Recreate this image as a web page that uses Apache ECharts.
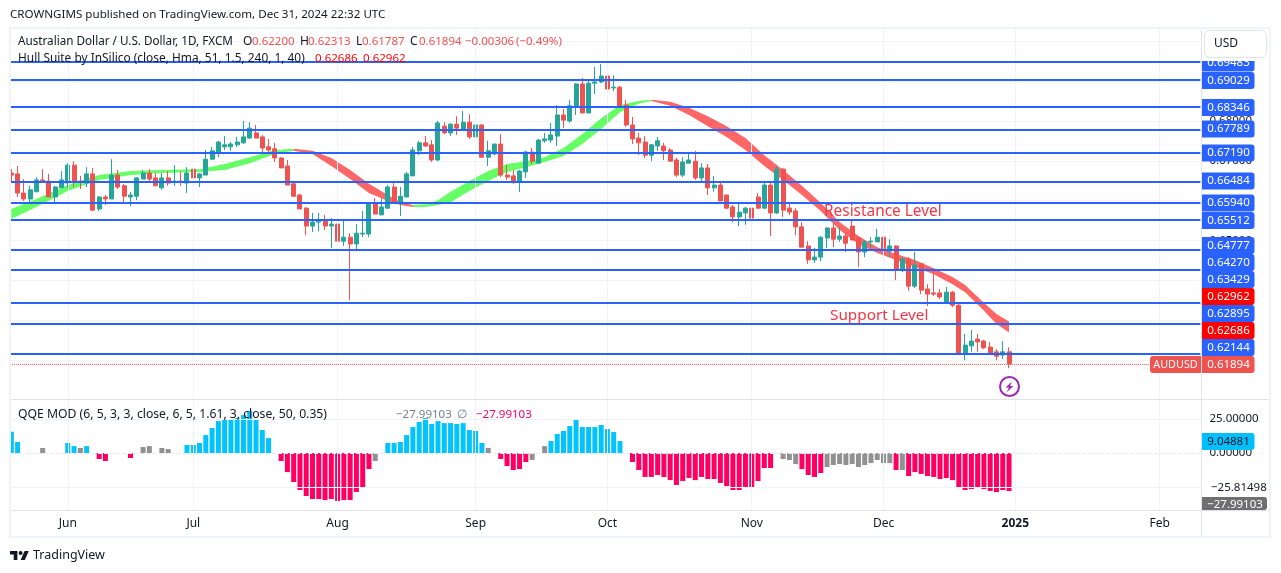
<!DOCTYPE html>
<html><head><meta charset="utf-8">
<style>html,body{margin:0;padding:0;background:#fff}#c{width:1281px;height:573px}</style>
<script src="https://cdn.jsdelivr.net/npm/echarts@6/dist/echarts.min.js"></script>
</head><body><div id="c"></div>
<script>
const opens=[.6669,.6667,.6619,.6604,.6622,.6652,.6649,.6609,.6632,.6644,.6689,.6649,.6644,.6667,.6579,.6609,.6604,.6664,.6637,.6609,
.6611,.6654,.6669,.6657,.6632,.6657,.6647,.6649,.6644,.6679,.6657,.6664,.6704,.6720,.6735,.6735,.6740,.6745,.6757,.6770,
.6760,.6735,.6730,.6707,.6687,.6642,.6614,.6581,.6536,.6546,.6549,.6536,.6541,.6498,.6508,.6491,.6516,.6516,.6594,.6564,
.6581,.6634,.6594,.6609,.6662,.6725,.6745,.6740,.6702,.6787,.6770,.6792,.6780,.6797,.6760,.6790,.6709,.6717,.6742,.6664,
.6662,.6649,.6672,.6722,.6694,.6750,.6752,.6762,.6815,.6800,.6835,.6893,.6820,.6895,.6898,.6913,.6883,.6885,.6840,.6790,
.6757,.6747,.6714,.6737,.6737,.6727,.6702,.6664,.6694,.6699,.6657,.6682,.6632,.6639,.6614,.6584,.6559,.6569,.6581,.6609,
.6581,.6639,.6569,.6679,.6581,.6574,.6534,.6486,.6451,.6458,.6506,.6531,.6503,.6511,.6536,.6506,.6471,.6496,.6496,.6508,
.6473,.6486,.6428,.6453,.6385,.6441,.6378,.6368,.6368,.6345,.6370,.6337,.6214,.6235,.6252,.6247,.6232,.6220,.6212,.62200];
const closes=[.6664,.6619,.6604,.6627,.6652,.6649,.6609,.6634,.6652,.6689,.6647,.6647,.6667,.6576,.6609,.6604,.6664,.6634,.6611,.6614,
.6657,.6669,.6654,.6637,.6657,.6644,.6649,.6647,.6669,.6657,.6667,.6704,.6725,.6747,.6740,.6742,.6747,.6760,.6782,.6757,
.6732,.6727,.6707,.6682,.6639,.6611,.6579,.6536,.6546,.6549,.6536,.6541,.6498,.6508,.6491,.6518,.6518,.6594,.6566,.6584,
.6634,.6594,.6611,.6667,.6727,.6745,.6737,.6702,.6795,.6770,.6792,.6782,.6797,.6760,.6790,.6709,.6725,.6742,.6664,.6659,
.6649,.6674,.6722,.6699,.6752,.6755,.6765,.6815,.6802,.6838,.6893,.6820,.6895,.6898,.6913,.6880,.6885,.6835,.6790,.6755,
.6745,.6714,.6740,.6750,.6725,.6699,.6664,.6697,.6702,.6657,.6682,.6632,.6639,.6599,.6581,.6559,.6571,.6581,.6556,.6581,
.6639,.6569,.6679,.6576,.6571,.6534,.6483,.6451,.6458,.6508,.6531,.6503,.6511,.6493,.6501,.6471,.6496,.6498,.6508,.6476,
.6486,.6428,.6453,.6385,.6438,.6375,.6365,.6365,.6358,.6370,.6337,.6214,.6237,.6247,.6245,.6230,.6214,.6209,.6220,.61894];
const lows=[.6649,.6609,.6599,.6594,.6622,.6644,.6609,.6594,.6632,.6632,.6634,.6629,.6634,.6576,.6574,.6589,.6604,.6629,.6594,.6586,
.6601,.6654,.6647,.6637,.6627,.6637,.6637,.6637,.6619,.6647,.6634,.6664,.6702,.6709,.6727,.6725,.6735,.6742,.6755,.6757,
.6717,.6717,.6697,.6682,.6639,.6609,.6579,.6513,.6521,.6523,.6526,.6481,.6488,.6486,.6350,.6473,.6508,.6508,.6566,.6564,
.6579,.6594,.6561,.6609,.6662,.6714,.6735,.6697,.6699,.6767,.6762,.6765,.6780,.6755,.6757,.6707,.6687,.6714,.6659,.6652,
.6642,.6622,.6657,.6692,.6694,.6745,.6745,.6737,.6782,.6795,.6815,.6820,.6820,.6868,.6895,.6858,.6875,.6833,.6785,.6742,
.6714,.6707,.6699,.6725,.6702,.6699,.6659,.6659,.6694,.6652,.6649,.6614,.6622,.6599,.6579,.6546,.6536,.6539,.6554,.6579,
.6579,.6511,.6566,.6559,.6564,.6513,.6483,.6441,.6443,.6448,.6481,.6483,.6496,.6471,.6501,.6433,.6458,.6481,.6496,.6443,
.6458,.6400,.6420,.6373,.6380,.6365,.6335,.6360,.6353,.6343,.6332,.6214,.6199,.6220,.6220,.6227,.6214,.6199,.6202,.61787];
const highs=[.6679,.6687,.6654,.6637,.6659,.6679,.6667,.6637,.6674,.6694,.6699,.6662,.6684,.6682,.6611,.6614,.6704,.6677,.6642,.6622,
.6659,.6677,.6679,.6669,.6669,.6674,.6689,.6672,.6684,.6689,.6669,.6727,.6735,.6750,.6762,.6747,.6760,.6800,.6797,.6790,
.6765,.6755,.6745,.6709,.6702,.6644,.6617,.6584,.6569,.6569,.6564,.6556,.6561,.6549,.6518,.6541,.6574,.6594,.6606,.6606,
.6639,.6644,.6634,.6672,.6735,.6750,.6762,.6752,.6800,.6797,.6795,.6812,.6825,.6817,.6795,.6792,.6750,.6742,.6767,.6689,
.6677,.6677,.6725,.6732,.6755,.6770,.6795,.6840,.6830,.6853,.6895,.6908,.6905,.6936,.6943,.6936,.6915,.6888,.6853,.6810,
.6770,.6762,.6742,.6760,.6745,.6732,.6707,.6709,.6717,.6725,.6694,.6692,.6662,.6647,.6614,.6589,.6596,.6584,.6591,.6619,
.6644,.6644,.6687,.6682,.6596,.6581,.6546,.6498,.6481,.6511,.6534,.6544,.6534,.6521,.6549,.6508,.6501,.6508,.6529,.6513,
.6503,.6488,.6458,.6458,.6471,.6443,.6390,.6430,.6378,.6383,.6373,.6340,.6265,.6275,.6265,.6250,.6245,.6227,.6247,.62313];

const hullGreenA=[[0,.6579,.6554],[4,.6604,.6584],[9,.6639,.6624],[14,.6664,.6652],[19,.6674,.6664],[24,.6677,.6669],[30,.6679,.6672],[34,.6692,.6677],[38,.6709,.6694],[42,.6727,.6717],[45,.6730,.6725]];
const hullRedA=[[45,.6730,.6725],[48,.6725,.6717],[51,.6707,.6687],[54,.6677,.6654],[57,.6642,.6619],[60,.6614,.6599],[62,.6596,.6589],[64,.6589,.6584]];
const hullGreenB=[[64,.6589,.6584],[66,.6591,.6584],[68,.6601,.6589],[70,.6622,.6596],[73,.6649,.6624],[76,.6674,.6649],[79,.6692,.6672],[82,.6699,.6684],[85,.6709,.6697],[88,.6732,.6712],[91,.6767,.6742],[94,.6807,.6780],[97,.6840,.6822],[100,.6850,.6843],[102,.6853,.6850]];
const hullRedB=[[102,.6853,.6850],[105,.6848,.6838],[108,.6833,.6815],[111,.6812,.6787],[114,.6787,.6760],[117,.6757,.6727],[120,.6714,.6687],[123,.6677,.6652],[126,.6637,.6614],[129,.6594,.6574],[132,.6546,.6526],[135,.6511,.6491],[138,.6483,.6468],[141,.6466,.6451],[144,.6451,.6433],[147,.6430,.6415],[150,.6408,.6390],[152,.6388,.6370],[155,.6343,.6323],[157,.6315,.6290],[159,.62962,.62686]];

const qqeValues=[15.7,8.1,0,0,0,3.7,0,0,0,7.4,5.1,3.7,5.1,0,-4.4,-5.9,0,0,0,-3.7,0,4.4,5.1,0,3.7,2.9,0,0,5.9,5.9,
7.4,13.2,18.4,23.5,24.3,25,25.7,27.9,30.9,25,16.9,11,0,-5.9,-14,-21.3,-27.2,-31.6,-33.8,-33.8,-34.6,-33.8,-35.3,-34.6,-34.6,-28.7,-25,-11.8,-5.9,0,
7.4,7.4,8.1,13.2,19.1,22.8,25.7,21.3,23.5,22,22,21.3,22,16.9,16.2,7.4,3.7,0,-4.4,-9.6,-12.5,-11.8,-6.6,-5.1,0,5.1,8.8,14,16.2,19.9,
24.3,19.1,19.1,19.1,20.6,17.6,15.4,8.8,0,-6.6,-12.5,-17.6,-17.6,-16.2,-17.6,-19.9,-23.5,-20.6,-18.4,-19.9,-17.6,-19.1,-19.1,-22,-24.3,-27.2,-27.2,-25,-25,-20.6,
-11,-11,0,-4.4,-5.1,-8.1,-11.8,-16.2,-17.6,-14.7,-10.3,-8.8,-8.1,-8.8,-8.1,-10.3,-8.8,-7.4,-5.1,-7.4,-7.4,-12.5,-12.5,-16.9,-14,-15.4,-16.9,-17.6,-19.1,-18.4,
-19.9,-25.7,-27.2,-26.5,-25.7,-26.5,-27.9,-28.7,-27.2,-27.99103];
const qqeGrey=[5,11,21,22,24,25,58,76,83,85,123,124,125,130,131,132,133,134,135,136,137,138,139,140,142];

const levels=[.69483,.69029,.68346,.67789,.67190,.66484,.65940,.65512,.64777,.64270,.63429,.62895,.62144];
const lastPrice=.61894;
const monthTicks={'2024-06-03':'Jun','2024-07-01':'Jul','2024-08-01':'Aug','2024-09-02':'Sep','2024-10-01':'Oct','2024-11-01':'Nov','2024-12-02':'Dec','2025-01-01':'2025','2025-02-03':'Feb'};

const badgeTexts=['0.69483','0.69029','0.68346','0.67789','0.67190','0.66484','0.65940','0.65512','0.64777','0.64270','0.63429','0.62962','0.62895','0.62686','0.62144','0.61894'];
const badgeYs=[63,80.5,107.5,129,153,181,203,220.5,245.5,262.5,279.5,296.5,313.5,330.5,347.5,364.5];

const FONT='"Noto Sans"',INK='#131722',BLUE='#2962ff',CORAL='#ef5350',GUIDE='#f0f3fa',NUM=11.5;

const categories=[];
for(let d=new Date(Date.UTC(2024,4,21));categories.length<190;d=new Date(d.getTime()+864e5)){
  const wd=d.getUTCDay(),s=d.toISOString().slice(0,10);
  if(wd!==0&&wd!==6&&s!=='2024-12-25')categories.push(s);
}
const candleData=opens.map((o,i)=>[o,closes[i],lows[i],highs[i]]);
const guideData=Object.keys(monthTicks).map(k=>({xAxis:k}));

function band(knots,fill,gridX,gridY,z){
  return {type:'custom',xAxisIndex:gridX,yAxisIndex:gridY,z,silent:true,clip:true,
    encode:{x:0,y:[1,2]},data:knots,
    renderItem(p,api){
      if(p.dataIndex!==0)return null;
      const up=knots.map(k=>api.coord([k[0],k[1]]));
      const lo=knots.map(k=>api.coord([k[0],k[2]])).reverse();
      return {type:'polygon',shape:{points:up.concat(lo)},style:{fill:fill},silent:true};
    }};
}

const g=[];
function rect(x,y,w,h,fill,z,r,stroke){g.push({type:'rect',silent:true,z,shape:{x,y,width:w,height:h,r:r||0},style:{fill,stroke:stroke||null,lineWidth:stroke?1:0}});}
function text(x,y,t,fill,opt){opt=opt||{};g.push({type:'text',silent:true,z:opt.z||110,x,y,style:{text:t,fill,font:(opt.size||12)+'px '+(opt.font||FONT),textAlign:opt.align||'left',textVerticalAlign:'middle'}});}

rect(0,0,1281,27,'#fff',100);
rect(0,0,9,573,'#fff',100);
rect(0,538,1281,35,'#fff',100);
rect(1271,0,10,573,'#fff',100);
rect(9,27,2,511,GUIDE,101);rect(1269,27,2,511,GUIDE,101);rect(9,27,1262,2,GUIDE,101);rect(9,536,1262,2,GUIDE,101);
rect(1201,29,1,507,'#e0e3eb',101);rect(11,399,1258,1,'#e0e3eb',101);rect(11,510,1258,1,'#e0e3eb',101);

badgeTexts.forEach((t,i)=>{
  const y=badgeYs[i];
  const fill=(t==='0.62962'||t==='0.62686')?'#ff0000':(t==='0.61894'?CORAL:BLUE);
  rect(1202,y-8.5,52.5,17,fill,102,[0,3,3,0]);
  text(1228.5,y,t,'#fff',{align:'center',z:103,size:NUM});
});
rect(1202,50,66,11,'#fff',104);
rect(1150,356,51,17,CORAL,102,[3,0,0,3]);
text(1175.5,364.5,'AUDUSD','#fff',{align:'center',z:103,size:10.8});
rect(1204.5,30.5,62,27,'#fff',105,5,'#e0e3eb');
text(1214,43.5,'USD',INK,{z:106});

rect(1202,433,52.5,17,'#00bfff',102,[0,3,3,0]);
text(1228.5,441.5,'9.04881',INK,{align:'center',z:103,size:NUM});
text(1211,488,'−25.81498',INK,{z:103,size:NUM});
rect(1202,497,65,13,'#6f6f6f',102,[0,3,3,0]);
text(1235,505,'−27.99103','#fff',{align:'center',z:103,size:NUM});
rect(1202,510,67,1,'#e0e3eb',104);
rect(1202,511,67,25,'#fff',104);

text(10,15,'CROWNGIMS published on TradingView.com, Dec 31, 2024 22:32 UTC',INK,{size:11.6});
text(18,42,'Australian Dollar / U.S. Dollar, 1D, FXCM',INK,{size:11.7});
[[243,'O',INK],[252,'0.62200',CORAL],[300,'H',INK],[308,'0.62313',CORAL],[356,'L',INK],[362,'0.61787',CORAL],[410,'C',INK],[419,'0.61894',CORAL],[465,'−0.00306',CORAL],[516,'(−0.49%)',CORAL]].forEach(a=>text(a[0],42,a[1],a[2],{size:a[2]===INK?12:NUM}));
text(18,58.5,'Hull Suite by InSilico (close, Hma, 51, 1.5, 240, 1, 40)',INK,{size:11.9});
text(315,58.5,'0.62686','#ff0000',{size:NUM});text(363,58.5,'0.62962','#ff0000',{size:NUM});
text(18,415,'QQE MOD (6, 5, 3, 3, close, 6, 5, 1.61, 3, close, 50, 0.35)',INK,{size:12.2});
text(396,415,'−27.99103','#787b86',{size:NUM});text(457,415,'∅','#787b86');text(476,415,'−27.99103','#ff0062',{size:NUM});
text(824,212,'Resistance Level','#f23645',{size:15.4});
text(830,316,'Support Level','#f23645',{size:15.3});

g.push({type:'circle',silent:true,z:110,shape:{cx:1009.5,cy:386.5,r:9.5},style:{fill:'#fff',stroke:'#9c27b0',lineWidth:2}});
g.push({type:'polygon',silent:true,z:111,shape:{points:[[1012,381.5],[1005.5,387.5],[1009,387.5],[1006.5,392.5],[1013.5,386],[1010,386]]},style:{fill:'#9c27b0'}});

g.push({type:'polygon',silent:true,z:110,shape:{points:[[10,551],[17.4,551],[17.4,560],[13.7,560],[13.7,554.5],[10,554.5]]},style:{fill:INK}});
g.push({type:'polygon',silent:true,z:110,shape:{points:[[24.8,560],[20.6,560],[24.6,551],[28.8,551]]},style:{fill:INK}});
g.push({type:'circle',silent:true,z:110,shape:{cx:20.6,cy:553,r:2},style:{fill:INK}});
text(33,555.5,'TradingView',INK,{size:12.5});

const option={
  animation:false,
  textStyle:{fontFamily:FONT},
  graphic:{elements:g},
  grid:[
    {left:8.16,width:1192.25,top:1.55,height:398.05,show:false},
    {left:8.16,width:1192.25,top:400,height:110,show:false}
  ],
  xAxis:[
    {type:'category',gridIndex:0,data:categories,boundaryGap:true,axisLine:{show:false},axisTick:{show:false},axisLabel:{show:false},splitLine:{show:false}},
    {type:'category',gridIndex:1,data:categories,boundaryGap:true,axisLine:{show:false},axisTick:{show:false},splitLine:{show:false},
     axisLabel:{show:true,margin:8,color:INK,fontSize:12,fontFamily:FONT,hideOverlap:false,
       interval:(i,v)=>monthTicks[v]!==undefined,
       formatter:v=>monthTicks[v]==='2025'?'{b|2025}':(monthTicks[v]||''),
       rich:{b:{fontWeight:'bold',fontSize:12,color:INK,fontFamily:FONT}}}}
  ],
  yAxis:[
    {type:'value',gridIndex:0,position:'right',min:.61,max:.71,interval:.01,axisLine:{show:false},axisTick:{show:false},
     splitLine:{show:true,showMinLine:false,showMaxLine:false,lineStyle:{color:GUIDE,width:1}},
     axisLabel:{margin:9,color:INK,fontSize:NUM,fontFamily:FONT,formatter:v=>(v<.615||v>.705)?'':v.toFixed(5)}},
    {type:'value',gridIndex:1,position:'right',min:-41.9,max:39,axisLine:{show:false},axisTick:{show:false},splitLine:{show:false},
     axisLabel:{margin:9,color:INK,fontSize:NUM,fontFamily:FONT,customValues:[0,25],formatter:v=>v.toFixed(5)}}
  ],
  series:[
    {type:'line',xAxisIndex:0,yAxisIndex:0,data:[],z:1,silent:true,
     markLine:{silent:true,symbol:'none',animation:false,label:{show:false},lineStyle:{color:GUIDE,width:1,type:'solid'},data:guideData}},
    {type:'line',xAxisIndex:1,yAxisIndex:1,data:[],z:1,silent:true,
     markLine:{silent:true,symbol:'none',animation:false,precision:5,label:{show:false},lineStyle:{color:GUIDE,width:1,type:'solid'},
       data:guideData.concat([{yAxis:25},{yAxis:-25},{yAxis:0,lineStyle:{type:'dashed',color:'#e8eaf0'}}])}},
    {type:'line',xAxisIndex:0,yAxisIndex:0,data:[],z:2,silent:true,
     markLine:{silent:true,symbol:'none',animation:false,precision:5,label:{show:false},lineStyle:{color:BLUE,width:2,type:'solid',opacity:1},
       data:levels.map(v=>({yAxis:v}))}},
    {type:'line',xAxisIndex:0,yAxisIndex:0,data:[],z:2,silent:true,
     markLine:{silent:true,symbol:'none',animation:false,precision:5,label:{show:false},lineStyle:{color:CORAL,width:1,type:'dotted'},
       data:[{yAxis:lastPrice}]}},
    band(hullGreenA,'rgba(0,255,0,0.6)',0,0,3),
    band(hullRedA,'rgba(255,0,0,0.6)',0,0,3),
    band(hullGreenB,'rgba(0,255,0,0.6)',0,0,3),
    band(hullRedB,'rgba(255,0,0,0.6)',0,0,3),
    {type:'candlestick',xAxisIndex:0,yAxisIndex:0,z:4,barWidth:4.5,data:candleData,silent:true,
     itemStyle:{color:'#26a69a',color0:CORAL,borderColor:'#26a69a',borderColor0:CORAL,borderWidth:1}},
    {type:'bar',xAxisIndex:1,yAxisIndex:1,z:4,barWidth:5,silent:true,
     data:qqeValues.map((v,i)=>({value:v,itemStyle:{color:qqeGrey.includes(i)?'#919191':(v>0?'#00c3ff':'#ff0062')}}))}
  ]
};
echarts.init(document.getElementById('c'),null,{renderer:'canvas'}).setOption(option);
</script></body></html>
